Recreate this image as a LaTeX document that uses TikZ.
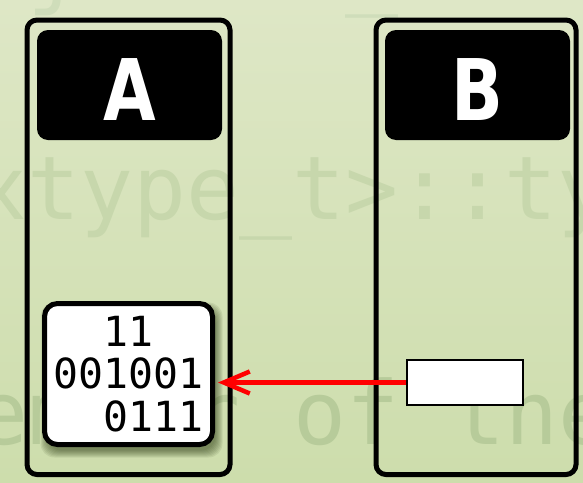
\documentclass[tikz,border=0pt]{standalone}
\usepackage{fontspec}
\setmainfont{DejaVu Sans}
\newfontfamily\codefont{DejaVu Sans Mono}
\newfontfamily\hdrfont{DejaVu Sans}
\usetikzlibrary{arrows.meta}

\definecolor{bgtop}{RGB}{222,231,198}
\definecolor{bgbot}{RGB}{205,221,172}
\definecolor{ghostfaint}{RGB}{207,221,186}
\definecolor{ghostmid}{RGB}{199,215,172}
\definecolor{ghostdeep}{RGB}{183,203,154}
\definecolor{shadowtone}{RGB}{50,65,25}
\definecolor{arrowred}{RGB}{255,0,0}

\begin{document}
\begin{tikzpicture}[x=1pt,y=-1pt,
  ghost/.style={inner sep=0pt,outer sep=0pt,anchor=base west,
    font=\codefont\fontsize{88}{88}\selectfont},
  colbox/.style={draw=black,line width=5pt,rounded corners=10pt,
    inner sep=0pt,outer sep=0pt},
  header/.style={fill=black,rounded corners=11pt,text=white,inner sep=0pt,
    text height=70pt,text depth=0pt,
    font=\hdrfont\bfseries\fontsize{85}{85}\selectfont},
  membox/.style={draw=black,fill=white,line width=5pt,rounded corners=13pt,
    inner sep=0pt,align=left,font=\codefont\fontsize{41.5}{42.5}\selectfont},
  slot/.style={draw=black,fill=white,line width=2pt,inner sep=0pt},
  flow/.style={draw=arrowred,line width=4.5pt,shorten >=3pt,
    -{Straight Barb[length=26pt,width=22pt]}},
]
\useasboundingbox (0,0) rectangle (583,482);

% backdrop
\shade[top color=bgtop,bottom color=bgbot] (0,0) rectangle (583,482);

% faint code in the backdrop
\node[ghost,text=ghostfaint] (g0) at (-25.5,-3) {\hphantom{0}j\hphantom{00000}\_};
\node[ghost,text=ghostmid] (g1) at (-25.5,219) {xtype\_t>::type};
\node[ghost,text=ghostdeep] (g2) at (-77.5,444) {member of the};

% the two columns
\node[colbox,minimum width=203pt,minimum height=454.5pt] (colA) at (128.5,247.25) {};
\node[colbox,minimum width=200pt,minimum height=454.5pt] (colB) at (476,247.25) {};

% column headers
\node[header,minimum width=185pt,minimum height=110pt] (hA) at (129.5,85) {\scalebox{0.8}[1]{A}};
\node[header,minimum width=185pt,minimum height=110pt] (hB) at (477.5,85) {\scalebox{0.8}[1]{B}};

% soft shadow under the value box
\foreach \r in {0,1,...,7}{
  \fill[shadowtone,opacity=0.09,rounded corners=14pt]
    (44.5+3-\r,303.5+6-\r) rectangle (212.5+3+\r,444.5+6+\r);
}

% value box and the empty slot
\node[membox,minimum width=168pt,minimum height=141pt] (val) at (128.5,374)
  {\hphantom{00}11\\001001\\\hphantom{00}0111};
\node[slot,minimum width=116pt,minimum height=45pt] (src) at (465,382.5) {};

% transfer arrow
\draw[flow] (src.west) -- (src.west -| val.east);
\end{tikzpicture}
\end{document}
